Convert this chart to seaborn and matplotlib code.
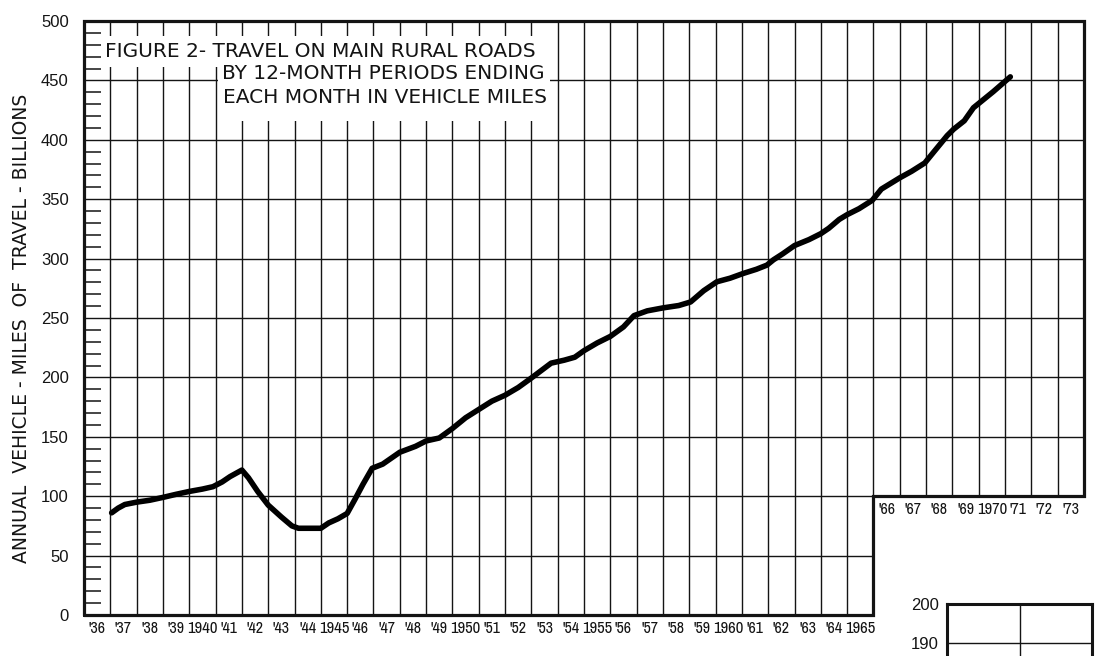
import matplotlib
matplotlib.use("Agg")
import matplotlib.pyplot as plt
from matplotlib import font_manager
from matplotlib.patches import Rectangle
import seaborn as sns

# 12-month period ending (decimal year) and annual vehicle-miles, billions
period_end = [
    1937.05, 1937.3, 1937.55, 1938.0, 1938.5, 1939.0, 1939.5, 1940.0, 1940.5, 1940.9, 1941.25, 1941.55, 1942.0,
    1942.25, 1942.6, 1943.0, 1943.5, 1943.9, 1944.15, 1944.5, 1945.0, 1945.3, 1945.65, 1946.0, 1946.3, 1946.6, 1946.95,
    1947.35, 1948.0, 1948.6, 1949.0, 1949.5, 1950.0, 1950.5, 1951.0, 1951.5, 1952.0, 1952.5, 1953.0, 1953.75,
    1954.25, 1954.65, 1955.0,
    1955.5, 1956.0, 1956.5, 1956.9, 1957.4, 1958.0, 1958.3, 1958.6, 1959.05, 1959.55, 1960.05, 1960.55, 1961.05,
    1961.55, 1961.95, 1962.2, 1962.55, 1963.0, 1963.55, 1964.0, 1964.3, 1964.7, 1965.0, 1965.45, 1965.95, 1966.3,
    1967.0, 1967.45, 1967.95, 1968.3, 1968.8, 1969.05, 1969.45, 1969.8, 1970.55, 1971.2,
]
vehicle_miles = [
    86, 90, 93, 95, 96.6, 99, 101.6, 104, 106, 108, 112, 116.5, 122,
    115.5, 104, 92.5, 82.5, 75, 73, 73, 73, 77.5, 81, 85.5, 97.5, 110, 123.5,
    127, 137, 142, 146.5, 149, 157, 166, 173, 180, 185, 191.5, 199.5, 212,
    214.5, 217, 222.5,
    229, 234.5, 242.5, 252, 256, 258.5, 259.5, 260.5, 263.5, 273, 280.5, 283.5, 287.5,
    291, 294.5, 299, 304, 311, 316, 321, 325.5, 333, 337, 342, 349, 358.5,
    368, 373.5, 380.5, 390, 403.5, 409, 416, 427, 440.5, 453,
]

first_year = 1936
year_labels = ["'36", "'37", "'38", "'39", "1940", "'41", "'42", "'43", "'44", "1945",
               "'46", "'47", "'48", "'49", "1950", "'51", "'52", "'53", "'54", "1955",
               "'56", "'57", "'58", "'59", "1960", "'61", "'62", "'63", "'64", "1965",
               "'66", "'67", "'68", "'69", "1970", "'71", "'72", "'73"]
y_major = [0, 50, 100, 150, 200, 250, 300, 350, 400, 450, 500]
title_lines = ["FIGURE 2- TRAVEL ON MAIN RURAL ROADS",
               "BY 12-MONTH PERIODS ENDING",
               "EACH MONTH IN VEHICLE MILES"]
ylabel = "ANNUAL  VEHICLE - MILES  OF  TRAVEL - BILLIONS"
next_fig_ticks = [190, 200]

sns.set_style("white")
plt.rcParams["font.family"] = ["DejaVu Sans"]


def narrow_font():
    # look for a condensed face for the crowded year labels
    fonts = font_manager.fontManager.ttflist
    for f in fonts:
        if "Narrow" in f.name or "Condensed" in f.name:
            return dict(family=f.name), True
    for f in fonts:
        if str(f.stretch) in ("condensed", "semi-condensed", "extra-condensed"):
            return dict(family=f.name, stretch=f.stretch), True
    return dict(family="Liberation Sans"), False


year_font, is_narrow = narrow_font()

ink = "#141414"
x_end = first_year + len(year_labels)
step_year = 1966      # lower right block of the grid is cut away from here
step_level = 100

fig = plt.figure(figsize=(10.95, 6.56), dpi=100)
ax = fig.add_axes([84 / 1095, 41 / 656, 1000 / 1095, 594 / 656])
ax.set_xlim(first_year, x_end)
ax.set_ylim(0, 500)
for s in ax.spines.values():
    s.set_visible(False)

# grid
for yr in range(first_year + 1, x_end):
    lo = 0 if yr < step_year else step_level
    ax.vlines(yr, lo, 500, color=ink, lw=1.0, zorder=1)
for v in y_major[1:-1]:
    right = step_year if v < step_level else x_end
    ax.hlines(v, first_year, right, color=ink, lw=1.0, zorder=1)

# outline with the step
ax.plot([first_year, first_year, x_end, x_end, step_year, step_year, first_year],
        [0, 500, 500, step_level, step_level, 0, 0],
        color=ink, lw=2.3, solid_joinstyle="miter", clip_on=False, zorder=4)

# title block
ax.add_patch(Rectangle((1936.65, 461), 1953.7 - 1936.65, 487 - 461,
                       facecolor="white", edgecolor="none", zorder=2))
ax.add_patch(Rectangle((1941.08, 416), 1953.7 - 1941.08, 461 - 416,
                       facecolor="white", edgecolor="none", zorder=2))
ax.text(1936.8, 474, title_lines[0], fontsize=14.5, ha="left", va="center", color=ink, zorder=3)
ax.text(1941.25, 455.5, title_lines[1], fontsize=14.5, ha="left", va="center", color=ink, zorder=3)
ax.text(1941.3, 436, title_lines[2], fontsize=14.5, ha="left", va="center", color=ink, zorder=3)

sns.lineplot(x=period_end, y=vehicle_miles, ax=ax, color="black", linewidth=4.0,
             solid_joinstyle="round", solid_capstyle="round", zorder=5)

# y axis
ax.set_yticks(y_major)
ax.set_yticks([v for v in range(10, 500, 10) if v % 50], minor=True)
ax.set_yticklabels([str(v) for v in y_major], family="Liberation Sans", fontsize=12, color=ink)
ax.tick_params(axis="y", which="major", length=0, pad=11)
ax.tick_params(axis="y", which="minor", direction="in", length=12, width=1.1, color=ink, left=True)
ax.set_xticks([])
ax.set_xlabel("")
ax.set_ylabel("")

# year labels under each interval
for i, lab in enumerate(year_labels):
    yr = first_year + i
    base = 0 if yr < step_year else step_level
    full = len(lab) == 4
    if is_narrow:
        size = 12 if full else 11.5
    else:
        size = 9
    ax.annotate(lab, (yr + 0.5, base), xytext=(0, -4), textcoords="offset points",
                ha="center", va="top", fontsize=size,
                fontweight="bold" if full else "normal", color=ink, **year_font)

fig.text(22 / 1095, 1 - 328 / 656, ylabel, rotation=90, ha="center", va="center",
         fontsize=13.5, color=ink)

# corner of the next figure on the page
ax2 = fig.add_axes([947 / 1095, 0, 145 / 1095, 52 / 656])
ax2.set_xlim(0, 2)
ax2.set_ylim(186.7, 200)
ax2.axhline(190, color=ink, lw=1.0)
ax2.axvline(1, color=ink, lw=1.0)
for side in ["top", "left", "right"]:
    ax2.spines[side].set_linewidth(2.2)
    ax2.spines[side].set_color(ink)
ax2.spines["bottom"].set_visible(False)
ax2.set_xticks([])
ax2.set_yticks(next_fig_ticks)
ax2.set_yticklabels([str(v) for v in next_fig_ticks], family="Liberation Sans", fontsize=12, color=ink)
ax2.tick_params(axis="y", length=0, pad=6)

fig.savefig("out.png", dpi=100)
